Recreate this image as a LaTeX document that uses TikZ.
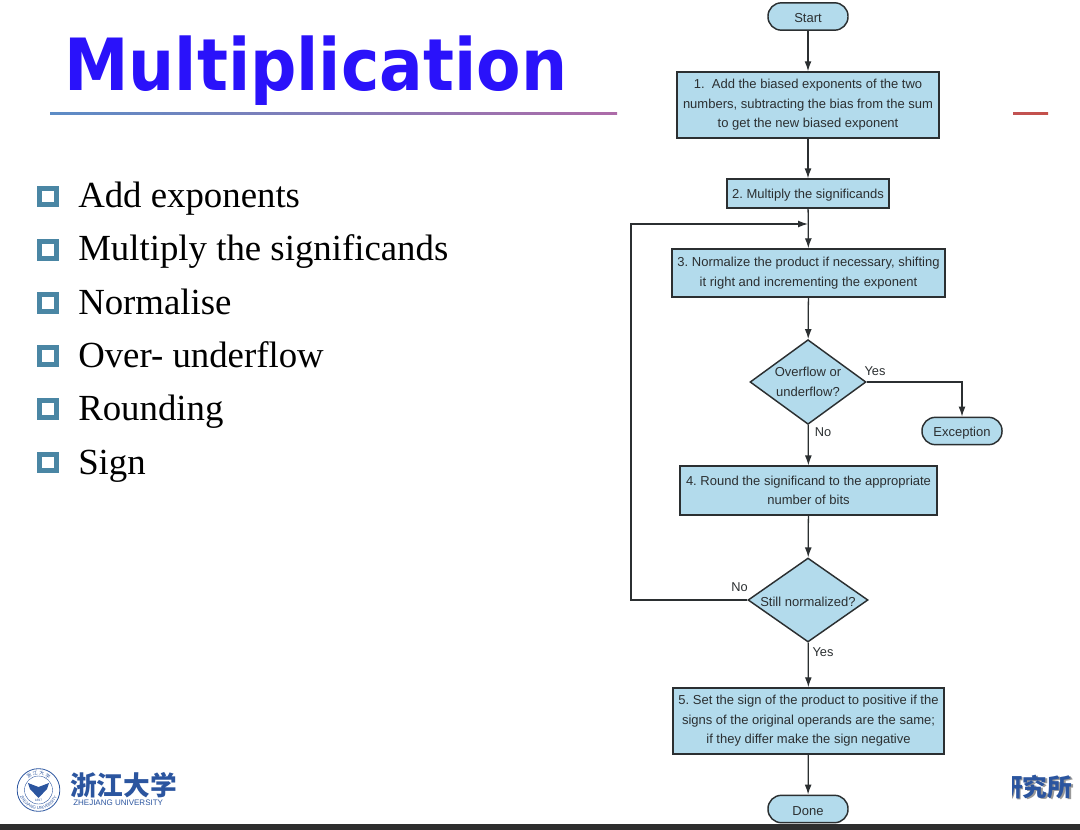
\documentclass[tikz,border=0pt]{standalone}
\usepackage{fontspec}
\setmainfont{Liberation Serif}
\newfontfamily\flowfont{Liberation Sans}
\newfontfamily\titlefont{DejaVu Sans}
\newfontfamily\cjk{Noto Sans CJK SC}
\usetikzlibrary{shapes.geometric,decorations.text,arrows.meta}
\definecolor{titleblue}{HTML}{2A12FA}
\definecolor{boxblue}{HTML}{B3DBEC}
\definecolor{edgegray}{HTML}{2B2F31}
\definecolor{bullteal}{HTML}{4A86A4}
\definecolor{zjublue}{HTML}{2B559F}
\definecolor{ruleblue}{HTML}{5C8CC6}
\definecolor{rulepurple}{HTML}{AD6BA8}
\definecolor{rulered}{HTML}{C4504A}
\begin{document}
\begin{tikzpicture}[
x=0.75pt,
y=-0.75pt,
stepbox/.style={
  draw=edgegray,
  fill=boxblue,
  line width=1.1pt,
  inner sep=0pt,
  align=center,
  font=\flowfont\frenchspacing\fontsize{9.75}{14.7}\selectfont,
  execute at begin node={\rule{0pt}{9.6pt}},
  text=edgegray
  },
term/.style={
  stepbox,
  rounded corners=10pt,
  minimum width=60pt,
  minimum height=20.5pt
  },
test/.style={
  stepbox,
  diamond,
  aspect=1.38
  },
lab/.style={
  font=\flowfont\fontsize{9.6}{12}\selectfont,
  text=edgegray,
  inner sep=0pt
  },
conn/.style={
  ->,
  draw=edgegray,
  line width=0.95pt
  },
bull/.style={
  draw=bullteal,
  fill=white,
  line width=3.8pt,
  minimum size=12.6pt,
  inner sep=0pt
  },
item/.style={
  anchor=base west,
  inner sep=0pt,
  font=\fontsize{27.6}{32}\selectfont
  },
>={Latex[length=7.5pt,width=5.2pt]}
]
\useasboundingbox (0,0) rectangle (1080,830);
% slide frame
\fill[black!82] (0,824) rectangle (1080,830);
\shade[left color=ruleblue,right color=rulepurple] (50,112.5) rectangle (617,115);
\shade[left color=rulered!90!rulepurple,right color=rulered] (1013,112.5) rectangle (1048,115);
\node[anchor=base west,inner sep=0pt,text=titleblue,font=\titlefont\bfseries\fontsize{54}{60}\selectfont] (title) at (64,91) {\scalebox{0.9}[1]{Multiplication}};
% bullets
\foreach \itemtext [count=\mi] in {Add exponents,Multiply the significands,Normalise,Over- underflow,Rounding,Sign}
{
  \node[bull] (bul-\mi) at (48,196.5+53.2*\mi-53.2) {};
  \node[item] (item-\mi) at (78,207.5+53.3*\mi-53.3) {\itemtext};
}
% flow chart
\node[term] (start) at (808,16.5) {Start};
\node[stepbox,minimum width=196.5pt,minimum height=49.5pt] (add) at (808,105) {1.\ \ Add the biased exponents of the two\\numbers, subtracting the bias from the sum\\to get the new biased exponent};
\node[stepbox,minimum width=121.5pt,minimum height=21.5pt] (mult) at (808,193.5) {2. Multiply the significands};
\node[stepbox,minimum width=204.5pt,minimum height=36pt] (norm) at (808.5,273) {3. Normalize the product if necessary, shifting\\it right and incrementing the exponent};
\node[test,minimum width=87pt,minimum height=63.5pt] (over) at (808,382) {Overflow or\\underflow?};
\node[term] (exc) at (962,431) {Exception};
\node[stepbox,minimum width=192.5pt,minimum height=36.5pt] (round) at (808.5,490.5) {4. Round the significand to the appropriate\\number of bits};
\node[test,minimum width=90pt,minimum height=63pt] (still) at (808,600) {Still normalized?};
\node[stepbox,minimum width=203pt,minimum height=49.5pt] (sign) at (808.5,721) {5. Set the sign of the product to positive if the\\signs of the original operands are the same;\\if they differ make the sign negative};
\node[term] (done) at (808,809) {Done};
\coordinate (merge) at (808,224);
\coordinate (back) at (631,600);
\draw[conn] (start) -- (add);
\draw[conn] (add) -- (mult);
\draw[conn] (mult) -- (norm);
\draw[conn] (norm) -- (over);
\draw[conn] (over) -- (round);
\draw[conn] (round) -- (still);
\draw[conn] (still) -- (sign);
\draw[conn] (sign) -- (done);
\draw[conn] (over.east) -| (exc.north);
\draw[conn] (still.west) -- (back) |- (merge);
\node[lab] (yes-a) at (875,371) {Yes};
\node[lab] (no-a) at (823,432) {No};
\node[lab] (no-b) at (739.5,587) {No};
\node[lab] (yes-b) at (823,652) {Yes};
% logo
\node[circle,draw=zjublue,line width=0.6pt,minimum size=32pt,inner sep=0pt] (seal) at (38.5,790) {};
\node[circle,draw=zjublue,line width=0.3pt,minimum size=21pt,inner sep=0pt] (sealin) at (38.5,790) {};
\fill[zjublue] (28,783) -- (38.5,787) -- (49,783) -- (47,789) -- (38.5,798) -- (30,789) -- cycle;
\path[postaction={decorate},decoration={text along path,text align=center,text={|\cjk\fontsize{3.6}{4}\selectfont\color{zjublue}|浙 江 大 学}}] (23.5,790) arc[start angle=180,end angle=360,radius=15];
\path[postaction={decorate},decoration={text along path,text align=center,text={|\flowfont\fontsize{3.2}{4}\selectfont\color{zjublue}|ZHEJIANG UNIVERSITY}}] (19,790) arc[start angle=180,end angle=0,radius=19.5];
\node[inner sep=0pt,text=zjublue,font=\flowfont\fontsize{2.4}{3}\selectfont] (year) at (38.5,800.5) {1897};
\node[anchor=west,inner sep=0pt,text=zjublue,font=\cjk\bfseries\fontsize{20}{22}\selectfont] (zjuname) at (70,785) {浙江大学};
\node[anchor=west,inner sep=0pt,text=zjublue,font=\flowfont\fontsize{6}{7}\selectfont] (zjusub) at (73,803) {ZHEJIANG UNIVERSITY};
\begin{scope}
\clip (1012,760) rectangle (1080,810);
\node[anchor=west,inner sep=0pt,text=black!40,font=\cjk\bfseries\fontsize{18.5}{20}\selectfont] (instshadow) at (999.5,788.5) {研究所};
\node[anchor=west,inner sep=0pt,text=zjublue,font=\cjk\bfseries\fontsize{18.5}{20}\selectfont] (inst) at (998,787) {研究所};
\end{scope}
\end{tikzpicture}
\end{document}
